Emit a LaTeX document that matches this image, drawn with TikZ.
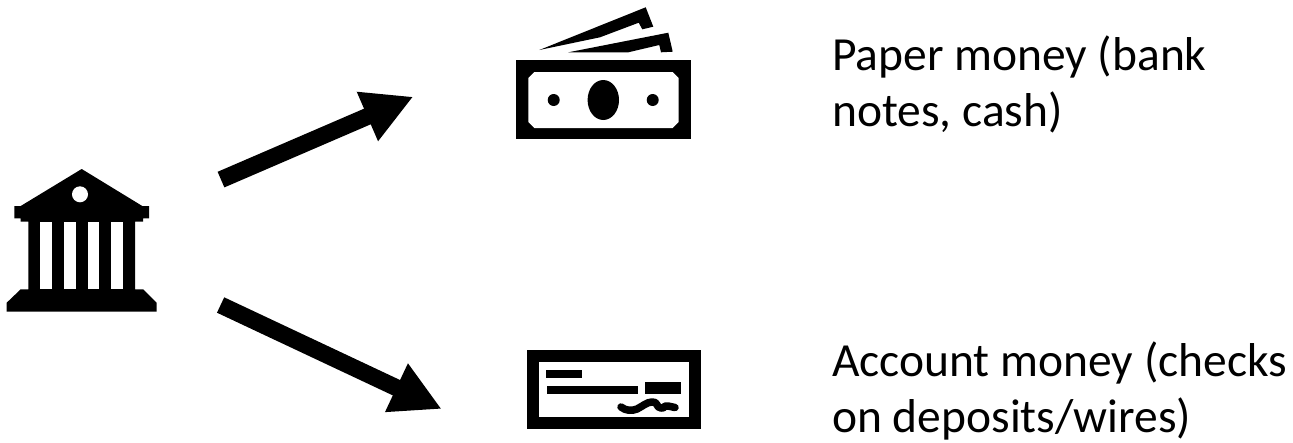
\documentclass[tikz,border=0pt]{standalone}
\usepackage{fontspec}
\setmainfont{Carlito}
\usetikzlibrary{arrows.meta}
\tikzset{
  icon/.style={fill=black,draw=none},
  hole/.style={fill=white,draw=none},
  flow/.style={line width=17pt,draw=black,-{Triangle[length=50pt,width=50pt]}},
  caption/.style={anchor=north west,align=left,inner sep=0pt,font=\fontsize{47.5}{55.5}\selectfont,text=black}
}
\begin{document}
\begin{tikzpicture}[x=1pt,y=-1pt]
\useasboundingbox (0,0) rectangle (1293,442);
% bank
\fill[icon] (81.7,169) -- (142.3,206) -- (149,206) -- (149,218.3) -- (143,218.3) -- (143,221.7) -- (135,221.7) -- (135,289.3) -- (143.3,289.3) -- (156.7,302.7) -- (156.7,311.7) -- (6.7,311.7) -- (6.7,302.7) -- (20.7,289.3) -- (28.3,289.3) -- (28.3,221.7) -- (20.7,221.7) -- (20.7,218.3) -- (14.3,218.3) -- (14.3,206) -- (20.7,206) -- cycle;
\fill[hole] (80,194.3) circle (8);
\foreach \xa/\xb in {40/52,63.7/75.7,87.7/99.3,111.3/123.3}
  \fill[hole] (\xa,222) rectangle (\xb,289.3);
% money
\fill[icon] (539.3,50) -- (645.7,7.3) -- (653.3,26.7) -- (642.3,29.3) -- (638.7,22.7) -- (600,37.3) -- cycle;
\fill[icon] (568.3,52.3) -- (668.3,32.7) -- (672.7,51.7) -- (661,52.3) -- (659.3,45) -- (628.3,52.3) -- cycle;
\fill[icon] (516,60.3) rectangle (690.7,139.3);
\fill[hole] (534.3,72) -- (672.7,72) -- (678.7,78) -- (678.7,122) -- (672.7,128) -- (534.3,128) -- (528.3,122) -- (528.3,78) -- cycle;
\fill[icon] (603.3,100) ellipse [x radius=15.7,y radius=20];
\fill[icon] (553.7,100) circle (6);
\fill[icon] (652.7,100) circle (6);
% check
\fill[icon] (526.7,350) rectangle (701,429.3);
\fill[hole] (539,362.3) rectangle (689,417.3);
\fill[icon] (546,370) rectangle (582,377.7);
\fill[icon] (547,386) rectangle (638.3,394);
\fill[icon] (645,382.3) rectangle (681,394);
\draw[line width=7.5pt,line cap=round,line join=round] (621,407) .. controls (626,411) and (632,411) .. (637,409) .. controls (643,406) and (647,402) .. (652,402) .. controls (658,401) and (656,408) .. (661,408) .. controls (665,409) and (663,405) .. (668,406) -- (675,407.5);
% connectors
\coordinate (bankUp) at (221,179.6);
\coordinate (moneyIn) at (413.3,96.7);
\coordinate (bankDown) at (220.6,305);
\coordinate (checkIn) at (441.7,409);
\draw[flow] (bankUp) -- (moneyIn);
\draw[flow] (bankDown) -- (checkIn);
% text
\node[caption] (paper) at (832,36) {Paper money (bank\\notes, cash)};
\node[caption] (account) at (832,342) {Account money (checks\\on deposits/wires)};
\end{tikzpicture}
\end{document}
